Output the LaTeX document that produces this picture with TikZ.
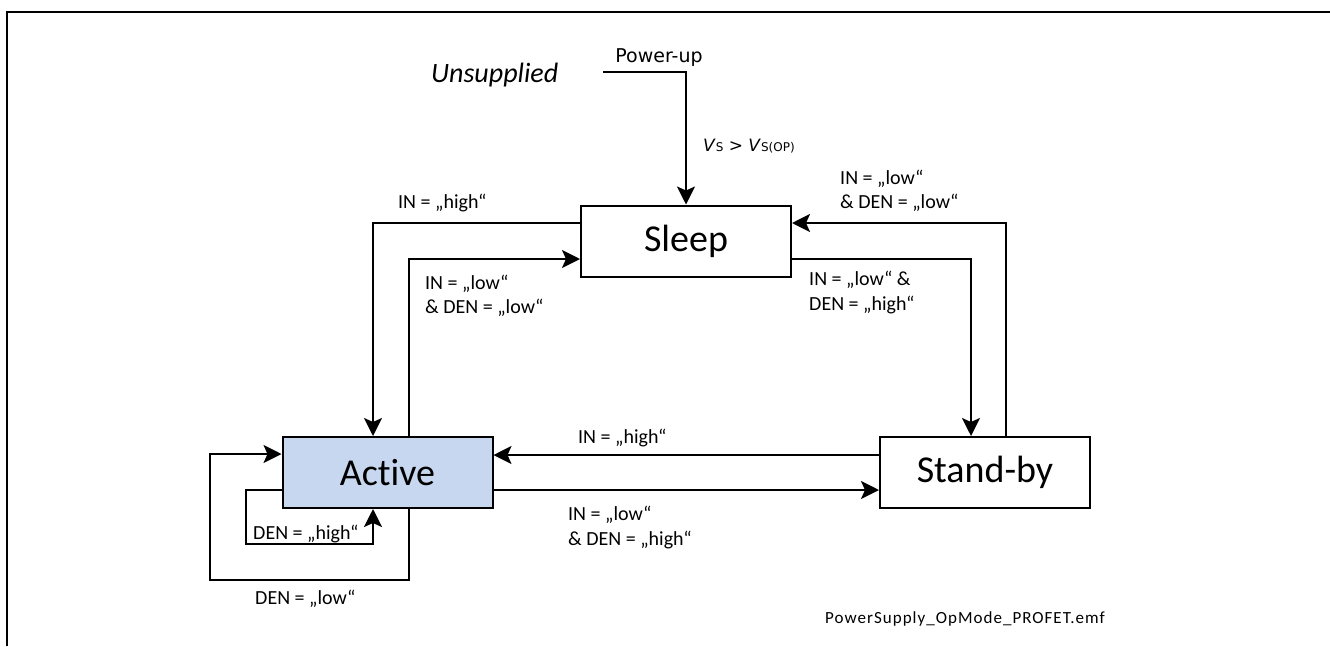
\documentclass[tikz,border=0pt]{standalone}
\usepackage{fontspec}
\setmainfont{Carlito}[Ligatures=NoCommon]
\newfontfamily\djv{DejaVu Sans}
\usetikzlibrary{arrows.meta,calc}
\definecolor{activeblue}{HTML}{C6D7EF}
\begin{document}
\begin{tikzpicture}[x=1pt,y=-1pt,
  arr/.style={line width=2pt,-{Stealth[length=18pt,width=18pt,inset=4pt]}},
  frameline/.style={line width=2pt},
  state/.style={draw,line width=2pt,minimum width=210pt,minimum height=71pt,inner sep=0pt,font=\fontsize{38}{40}\selectfont},
  lab/.style={font=\fontsize{20}{24}\selectfont,inner sep=0pt,anchor=base west}]
\useasboundingbox (0,0) rectangle (1330,646);
\draw[frameline] (7,646) -- (7,12) -- (1330,12);
% states
\node[state] (sleep) at (686,241) {Sleep};
\node[state,fill=activeblue] (active) at (387.5,472.5) {Active};
\node[state] (standby) at (985,472.5) {Stand-by};
% helper coordinates
\coordinate (y223) at (0,223);
\coordinate (y259) at (0,259);
\coordinate (y455) at (0,455);
\coordinate (y490) at (0,490);
\coordinate (y454) at (0,454);
\coordinate (y544) at (0,544);
\coordinate (y580) at (0,580);
\coordinate (x373) at (373,0);
\coordinate (x409) at (409,0);
\coordinate (x1006) at (1006,0);
\coordinate (x971) at (971,0);
\coordinate (x246) at (246,0);
\coordinate (x210) at (210,0);
\coordinate (pu) at (603,72);
% texts
\node[font=\itshape\fontsize{28}{30}\selectfont,inner sep=0pt,anchor=base west] (unsup) at (431,82) {Unsupplied};
\node[font=\djv\fontsize{19}{22}\selectfont,inner sep=0pt,anchor=base] (pwr) at (659,62) {Power-up};
\node[font=\djv\fontsize{17}{20}\selectfont,inner sep=0pt,anchor=base west] (vs) at (703,151) {\textit{V}{\fontsize{12}{12}\selectfont S} > \textit{V}{\fontsize{12}{12}\selectfont S(OP)}};
% connectors
\draw[arr] (pu) -| (sleep.north);
\draw[arr] (sleep.west |- y223) -| (active.north -| x373);
\draw[arr] (active.north -| x409) |- (sleep.west |- y259);
\draw[arr] (standby.north -| x1006) |- (sleep.east |- y223);
\draw[arr] (sleep.east |- y259) -| (standby.north -| x971);
\draw[arr] (standby.west |- y455) -- (active.east |- y455);
\draw[arr] (active.east |- y490) -- (standby.west |- y490);
\draw[arr] (active.west |- y490) -| (x246 |- y544) -| (active.south -| x373);
\draw[arr] (active.south -| x409) |- (x210 |- y580) |- (active.west |- y454);
% labels
\node[lab] (l1) at (398,208) {IN = „high“};
\node[lab] (l2a) at (425,289) {IN = „low“};
\node[lab] (l2b) at (425,313) {\& DEN = „low“};
\node[lab] (l3a) at (840,184) {IN = „low“};
\node[lab] (l3b) at (840,208) {\& DEN = „low“};
\node[lab] (l4a) at (809,285) {IN = „low“ \&};
\node[lab] (l4b) at (809,310) {DEN = „high“};
\node[lab] (l5) at (578,443) {IN = „high“};
\node[lab] (l6a) at (568,520) {IN = „low“};
\node[lab] (l6b) at (568,545) {\& DEN = „high“};
\node[lab] (l7) at (253,539) {DEN = „high“};
\node[lab] (l8) at (255,604) {DEN = „low“};
\node[font=\addfontfeature{LetterSpace=6}\fontsize{17}{20}\selectfont,inner sep=0pt,anchor=base west] (fname) at (825,623) {PowerSupply\_OpMode\_PROFET.emf};
\end{tikzpicture}
\end{document}
